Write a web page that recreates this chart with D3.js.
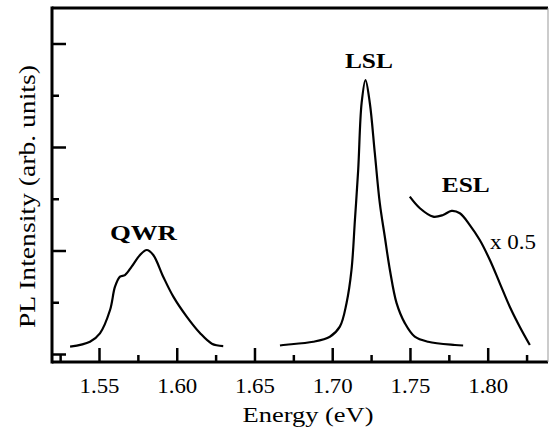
<!DOCTYPE html>
<html>
<head>
<meta charset="utf-8">
<script src="https://cdn.jsdelivr.net/npm/d3@7"></script>
<style>
  body { margin: 0; background: #fff; }
  svg text { font-family: "Liberation Serif", "Times New Roman", Times, serif !important; fill: #000; }
</style>
</head>
<body>
<div id="grafico"></div>
<script>
// energias (eV) y valores de intensidad
const qwr_energia = [1.5314, 1.5442, 1.5506, 1.5571, 1.5603, 1.5635, 1.5667, 1.5710, 1.5764, 1.5807, 1.5849, 1.5913, 1.5978, 1.6064, 1.6149, 1.6226, 1.6299];
const qwr_intensidad = [0.071, 0.119, 0.200, 0.425, 0.650, 0.747, 0.763, 0.844, 0.957, 1.005, 0.957, 0.747, 0.554, 0.361, 0.203, 0.100, 0.077];

const lsl_energia = [1.6664, 1.6685, 1.6878, 1.6985, 1.7049, 1.7092, 1.7124, 1.7146, 1.7167, 1.7189, 1.7214, 1.7242, 1.7274, 1.7306, 1.7338, 1.7371, 1.7414, 1.7467, 1.7531, 1.7617, 1.7789, 1.7842];
const lsl_intensidad = [0.082, 0.087, 0.118, 0.167, 0.264, 0.491, 0.812, 1.295, 1.778, 2.423, 2.647, 2.423, 1.940, 1.457, 1.135, 0.812, 0.491, 0.298, 0.167, 0.118, 0.087, 0.082];

const esl_energia = [1.7499, 1.7564, 1.7649, 1.7713, 1.7767, 1.7821, 1.7885, 1.7949, 1.8014, 1.8078, 1.8142, 1.8206, 1.8271];
const esl_intensidad = [1.520, 1.408, 1.327, 1.343, 1.382, 1.360, 1.246, 1.101, 0.908, 0.683, 0.457, 0.264, 0.087];

const ticks_x = [1.55, 1.60, 1.65, 1.70, 1.75, 1.80];
const ticks_x_menores = [1.525, 1.575, 1.625, 1.675, 1.725, 1.775, 1.825];
const ticks_y = [0, 1, 2, 3];
const ticks_y_menores = [0.5, 1.5, 2.5];

const etiquetas = [
    {texto: "QWR", e: 1.5786, v: 1.101, largo: 67},
    {texto: "LSL", e: 1.7236, v: 2.763, largo: 48},
    {texto: "ESL", e: 1.7859, v: 1.565, largo: 48}
];

const fuente = '"Liberation Serif", "Times New Roman", Times, serif';

function crearGrafico(){
    const ancho = 549, alto = 434;
    const izq = 52, der = 548, arriba = 8, abajo = 362;

    const svg = d3.select("#grafico").append("svg")
        .attr("width", ancho)
        .attr("height", alto)
        .style("font-family", fuente);

    const x = d3.scaleLinear().domain([1.55, 1.80]).range([99, 487.7]);
    const y = d3.scaleLinear().domain([0, 3]).range([354, 43.5]);

    // marco
    svg.append("line").attr("x1", izq).attr("x2", der).attr("y1", arriba).attr("y2", arriba)
        .attr("stroke", "#000").attr("stroke-width", 3);
    svg.append("line").attr("x1", izq).attr("x2", der).attr("y1", abajo).attr("y2", abajo)
        .attr("stroke", "#000").attr("stroke-width", 3);
    svg.append("line").attr("x1", izq).attr("x2", izq).attr("y1", arriba - 1.5).attr("y2", abajo + 1.5)
        .attr("stroke", "#000").attr("stroke-width", 3);
    svg.append("line").attr("x1", der).attr("x2", der).attr("y1", arriba).attr("y2", abajo)
        .attr("stroke", "#999").attr("stroke-width", 1);

    // eje x
    const ejeX = svg.append("g").attr("transform", `translate(0,${abajo})`)
        .call(d3.axisBottom(x).tickValues(ticks_x).tickSize(-14).tickPadding(17).tickFormat(d3.format(".2f")));
    ejeX.attr("font-family", null);
    ejeX.select(".domain").remove();
    ejeX.selectAll("line").attr("stroke-width", 2.5);
    ejeX.selectAll("text").attr("font-size", 20).style("font-family", fuente)
        .attr("textLength", 40).attr("lengthAdjust", "spacingAndGlyphs");

    const ejeXm = svg.append("g").attr("transform", `translate(0,${abajo})`)
        .call(d3.axisBottom(x).tickValues(ticks_x_menores).tickSize(-7).tickFormat(""));
    ejeXm.select(".domain").remove();
    ejeXm.selectAll("line").attr("stroke-width", 2.5);

    // eje y
    const ejeY = svg.append("g").attr("transform", `translate(${izq},0)`)
        .call(d3.axisLeft(y).tickValues(ticks_y).tickSize(-14).tickFormat(""));
    ejeY.select(".domain").remove();
    ejeY.selectAll("line").attr("stroke-width", 2.5);

    const ejeYm = svg.append("g").attr("transform", `translate(${izq},0)`)
        .call(d3.axisLeft(y).tickValues(ticks_y_menores).tickSize(-7).tickFormat(""));
    ejeYm.select(".domain").remove();
    ejeYm.selectAll("line").attr("stroke-width", 2.5);

    // curvas
    const linea = d3.line()
        .x(d => x(d[0]))
        .y(d => y(d[1]))
        .curve(d3.curveCatmullRom.alpha(0.5));

    const series = [
        d3.zip(qwr_energia, qwr_intensidad),
        d3.zip(lsl_energia, lsl_intensidad),
        d3.zip(esl_energia, esl_intensidad)
    ];
    svg.selectAll("path.curva")
        .data(series)
        .join("path")
        .attr("class", "curva")
        .attr("d", linea)
        .attr("fill", "none")
        .attr("stroke", "#000")
        .attr("stroke-width", 2.2)
        .attr("stroke-linejoin", "round");

    // etiquetas de picos
    svg.selectAll("text.pico")
        .data(etiquetas)
        .join("text")
        .attr("class", "pico")
        .attr("x", d => x(d.e))
        .attr("y", d => y(d.v))
        .attr("text-anchor", "middle")
        .attr("font-size", 22)
        .attr("font-weight", "bold")
        .attr("textLength", d => d.largo).attr("lengthAdjust", "spacingAndGlyphs")
        .text(d => d.texto);

    svg.append("text")
        .attr("x", 490).attr("y", 249)
        .attr("font-size", 20)
        .attr("textLength", 46).attr("lengthAdjust", "spacingAndGlyphs")
        .text("x 0.5");

    // titulos de ejes
    svg.append("text")
        .attr("x", 308).attr("y", 422)
        .attr("text-anchor", "middle")
        .attr("font-size", 22)
        .attr("textLength", 131).attr("lengthAdjust", "spacingAndGlyphs")
        .text("Energy (eV)");

    svg.append("text")
        .attr("transform", "translate(35,196.5) rotate(-90)")
        .attr("text-anchor", "middle")
        .attr("font-size", 23)
        .attr("textLength", 263).attr("lengthAdjust", "spacingAndGlyphs")
        .text("PL Intensity (arb. units)");
}

crearGrafico();
</script>
</body>
</html>
